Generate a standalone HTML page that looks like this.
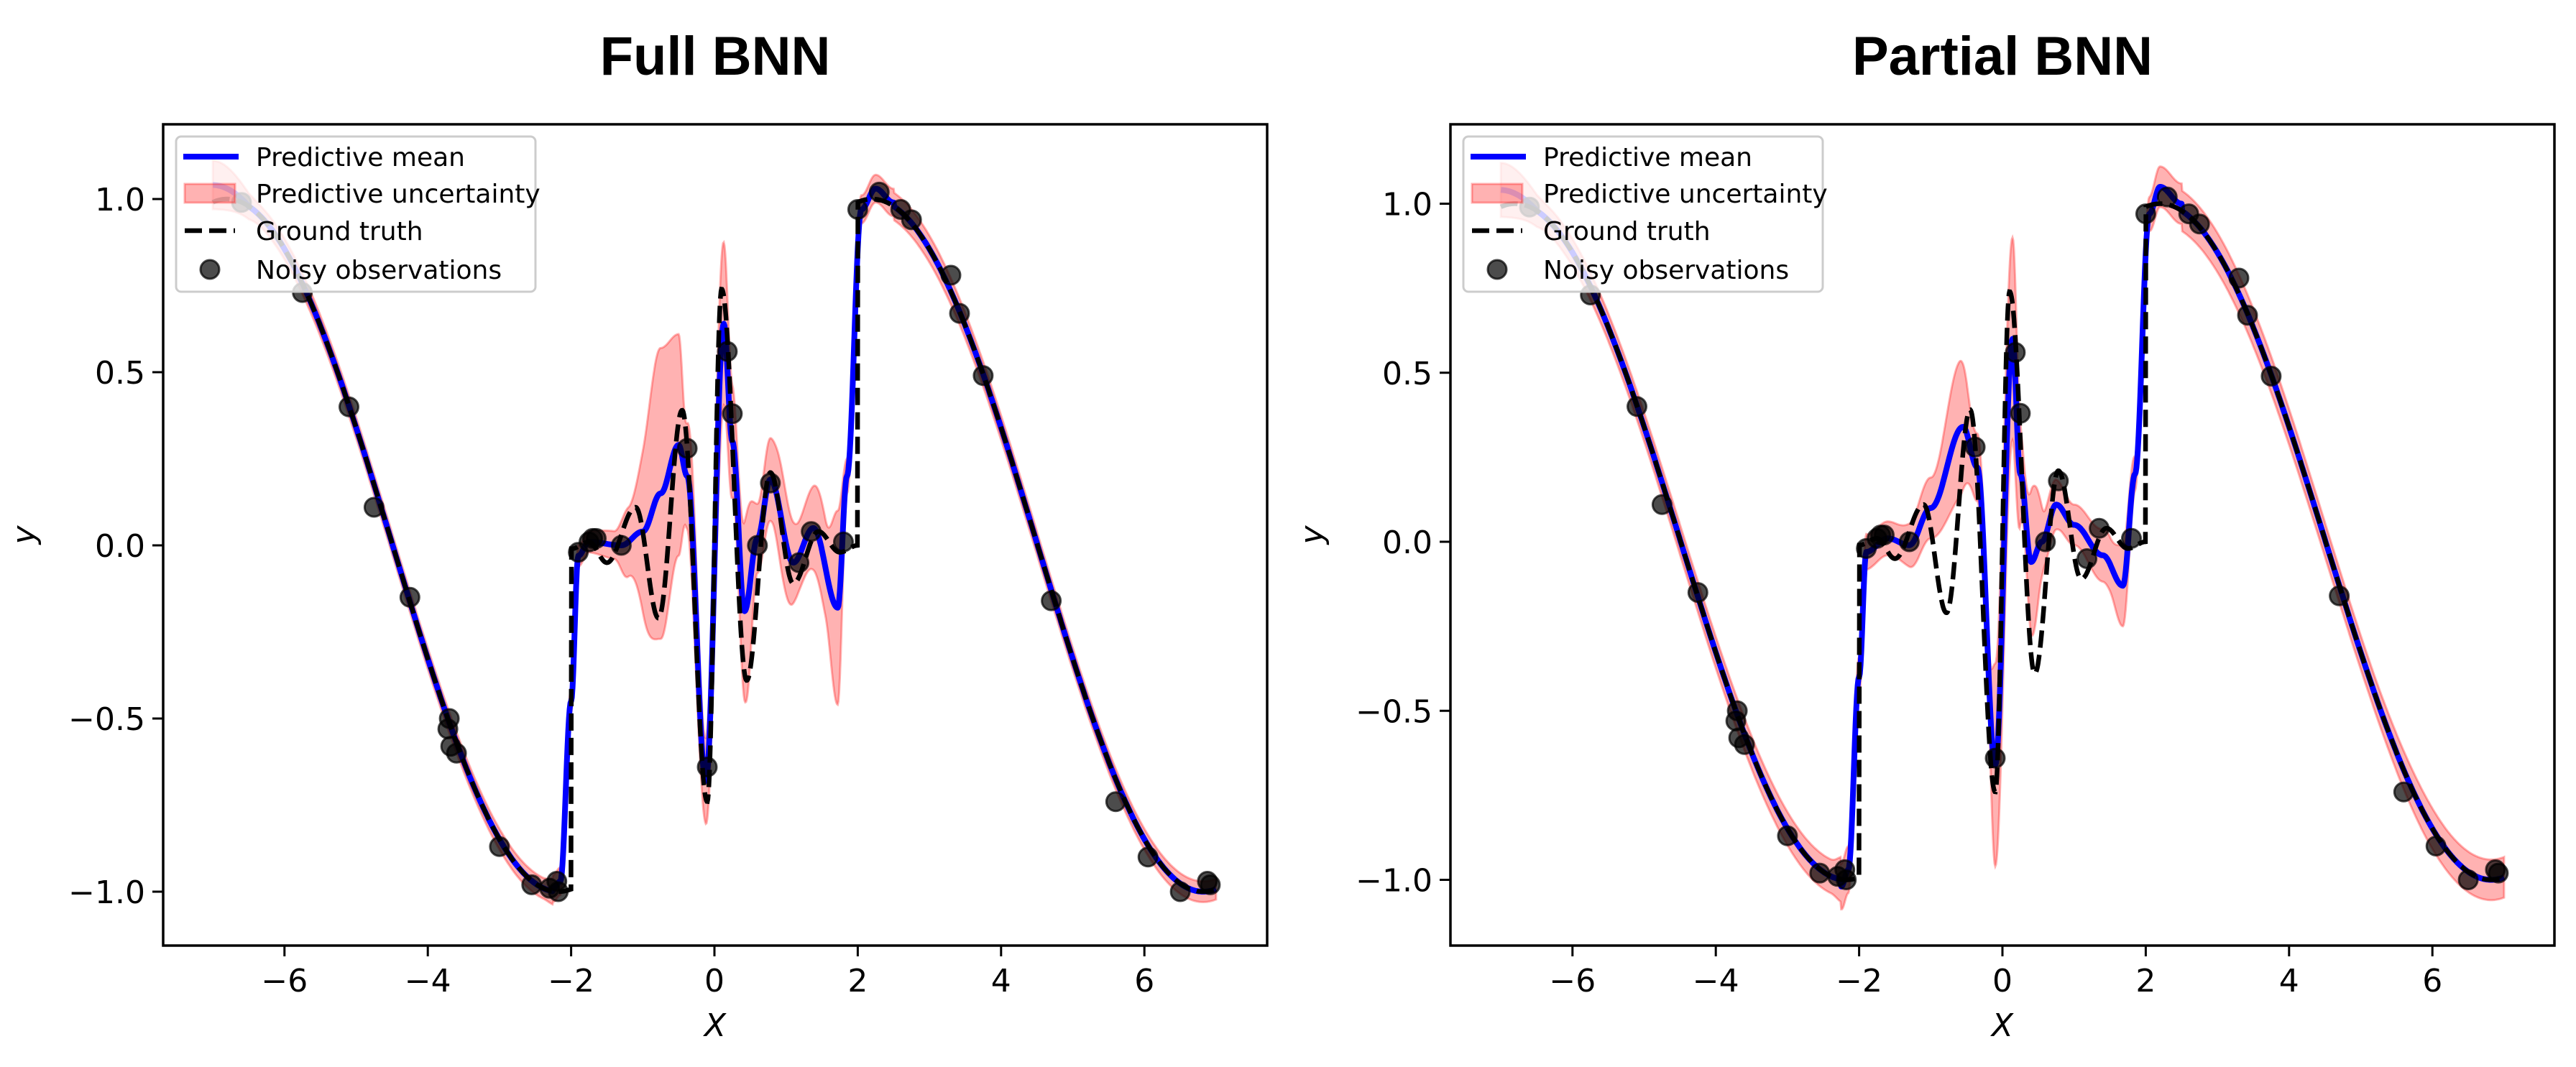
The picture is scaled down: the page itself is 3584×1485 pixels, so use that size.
<!DOCTYPE html>
<html><head><meta charset="utf-8">
<style>
html,body{margin:0;padding:0;background:#fff;}
svg{display:block;}
text{font-family:"DejaVu Sans","Liberation Sans",sans-serif;}
</style></head>
<body>
<svg id="s" width="3584" height="1485" viewBox="0 0 3584 1485" xmlns="http://www.w3.org/2000/svg">
<rect width="3584" height="1485" fill="#fff"/>
<text x="995" y="104" text-anchor="middle" font-family="Liberation Sans, sans-serif" font-weight="bold" font-size="76" style="font-family:'Liberation Sans',sans-serif">Full BNN</text>
<text x="2786" y="104" text-anchor="middle" font-family="Liberation Sans, sans-serif" font-weight="bold" font-size="76" style="font-family:'Liberation Sans',sans-serif">Partial BNN</text>
<g id="p1"></g><g id="p2"></g>
</svg>
<script>
function interp(pts){
  return function(x){
    if(x<=pts[0][0]) return pts[0][1];
    var n=pts.length;
    if(x>=pts[n-1][0]) return pts[n-1][1];
    var i=0; while(pts[i+1][0]<x) i++;
    var x0=pts[i][0],x1=pts[i+1][0],y0=pts[i][1],y1=pts[i+1][1];
    var t=(x-x0)/(x1-x0);
    var s=(1-Math.cos(Math.PI*t))/2;
    return y0+(y1-y0)*s;
  };
}
var gtMid=interp([[-2,-0.01],[-1.75,0.01],[-1.5,-0.05],[-1.1,0.11],[-0.78,-0.21],[-0.45,0.39],[-0.1,-0.74],[0.1,0.74],[0.45,-0.39],[0.78,0.21],[1.1,-0.11],[1.45,0.04],[1.75,-0.02],[2,0]]);
function GT(x){
  if(x<-2) return Math.cos(0.68*(x+6.8));
  if(x<2) return gtMid(x);
  return Math.cos(0.68*(x-2.2));
}
function meanFrom(mid){
  var f=interp(mid);
  var a=mid[0][0], b=mid[mid.length-1][0];
  return function(x){
    if(x<a){ var v=GT(x); if(x<-6.5) v+= (-6.5-x)*0.1; return v;}
    if(x>b) return GT(x);
    return f(x);
  };
}
var mean1=meanFrom([[-2.25,-0.99],[-2.15,-0.97],[-2.0,-0.45],[-1.9,-0.03],[-1.75,0.01],[-1.3,0.0],[-1.0,0.04],[-0.75,0.15],[-0.5,0.29],[-0.38,0.2],[-0.12,-0.68],[0.13,0.64],[0.25,0.3],[0.42,-0.19],[0.6,0.02],[0.78,0.19],[1.1,-0.05],[1.38,0.05],[1.72,-0.18],[1.85,0.2],[2.05,0.97],[2.25,1.03],[2.5,0.99]]);
var mean2=meanFrom([[-2.25,-1.02],[-2.15,-0.97],[-2.0,-0.4],[-1.9,-0.03],[-1.6,0.01],[-1.3,-0.01],[-1.0,0.1],[-0.55,0.34],[-0.35,0.22],[-0.1,-0.66],[0.14,0.6],[0.25,0.2],[0.4,-0.06],[0.55,0.0],[0.75,0.11],[1.0,0.05],[1.4,-0.04],[1.68,-0.13],[1.85,0.2],[2.05,0.97],[2.2,1.05],[2.5,1.0]]);
var w1=interp([[-7,0.07],[-6.3,0.03],[-2.4,0.03],[-2.2,0.04],[-1.8,0.03],[-1.4,0.04],[-1.2,0.1],[-0.75,0.42],[-0.5,0.32],[-0.4,0.15],[-0.3,0.18],[-0.15,0.12],[0.1,0.24],[0.3,0.15],[0.45,0.27],[0.6,0.1],[0.8,0.12],[0.95,0.15],[1.2,0.1],[1.55,0.14],[1.72,0.28],[1.85,0.05],[2.1,0.04],[6,0.03],[7,0.03]]);
var w2=interp([[-7,0.08],[-6.3,0.04],[-2.4,0.05],[-2.2,0.07],[-1.8,0.05],[-1.5,0.05],[-1.0,0.09],[-0.6,0.2],[-0.4,0.1],[-0.2,0.1],[-0.1,0.3],[0.15,0.3],[0.3,0.1],[0.42,0.22],[0.6,0.08],[1.0,0.06],[1.5,0.08],[1.68,0.12],[1.9,0.04],[2.2,0.06],[5,0.05],[6,0.06],[7,0.06]]);
var obs=[[-6.6,0.99],[-5.75,0.73],[-5.1,0.40],[-4.75,0.11],[-4.25,-0.15],[-3.7,-0.50],[-3.72,-0.53],[-3.68,-0.58],[-3.6,-0.60],[-3.0,-0.87],[-2.55,-0.98],[-2.3,-0.99],[-2.2,-0.97],[-2.18,-1.0],[-1.9,-0.02],[-1.75,0.01],[-1.7,0.02],[-1.65,0.02],[-1.3,0.0],[-0.38,0.28],[-0.1,-0.64],[0.18,0.56],[0.25,0.38],[0.6,0.0],[0.78,0.18],[1.18,-0.05],[1.35,0.04],[1.8,0.01],[2.0,0.97],[2.3,1.02],[2.6,0.97],[2.75,0.94],[3.3,0.78],[3.42,0.67],[3.75,0.49],[4.7,-0.16],[5.6,-0.74],[6.05,-0.90],[6.5,-1.0],[6.88,-0.97],[6.92,-0.98]];

function panel(id,L,R,T,B,x0,ux,y0,uy,mean,w,ylabX){
  var g=document.getElementById(id);
  var X=function(x){return x0+x*ux;}, Y=function(y){return y0-y*uy;};
  var h='<defs><clipPath id="c'+id+'"><rect x="'+L+'" y="'+T+'" width="'+(R-L)+'" height="'+(B-T)+'"/></clipPath></defs>';
  h+='<g clip-path="url(#c'+id+')">';
  var up=[],lo=[],m=[],gt=[];
  for(var i=0;i<=1400;i++){var x=-7+14*i/1400;var mv=mean(x),wv=w(x);
    up.push(X(x).toFixed(1)+','+Y(mv+wv).toFixed(1));lo.unshift(X(x).toFixed(1)+','+Y(mv-wv).toFixed(1));
    m.push(X(x).toFixed(1)+','+Y(mv).toFixed(1));}
  for(var i=0;i<=2000;i++){var x=-7+14*i/2000;gt.push(X(x).toFixed(1)+','+Y(GT(x)).toFixed(1));}
  h+='<polygon points="'+up.join(' ')+' '+lo.join(' ')+'" fill="rgba(255,0,0,0.3)" stroke="rgba(255,0,0,0.3)" stroke-width="3"/>';
  h+='<polyline points="'+m.join(' ')+'" fill="none" stroke="#0000ff" stroke-width="8" stroke-linejoin="round"/>';
  h+='<polyline points="'+gt.join(' ')+'" fill="none" stroke="#000" stroke-width="6.5" stroke-dasharray="24,10"/>';
  obs.forEach(function(p){h+='<circle cx="'+X(p[0]).toFixed(1)+'" cy="'+Y(p[1]).toFixed(1)+'" r="13" fill="rgba(0,0,0,0.7)" stroke="rgba(0,0,0,0.7)" stroke-width="3"/>';});
  h+='</g>';
  h+='<rect x="'+L+'" y="'+T+'" width="'+(R-L)+'" height="'+(B-T)+'" fill="none" stroke="#000" stroke-width="3.5"/>';
  [-6,-4,-2,0,2,4,6].forEach(function(t){var xx=X(t);
    h+='<line x1="'+xx+'" y1="'+B+'" x2="'+xx+'" y2="'+(B+15)+'" stroke="#000" stroke-width="3"/>';
    h+='<text x="'+xx+'" y="1380" text-anchor="middle" font-size="44">'+(t<0?'\u2212'+(-t):t)+'</text>';});
  [-1,-0.5,0,0.5,1].forEach(function(t){var yy=Y(t);
    h+='<line x1="'+(L-15)+'" y1="'+yy+'" x2="'+L+'" y2="'+yy+'" stroke="#000" stroke-width="3"/>';
    h+='<text x="'+(L-25)+'" y="'+(yy+16)+'" text-anchor="end" font-size="44">'+(t<0?'\u2212':'')+Math.abs(t).toFixed(1)+'</text>';});
  var cx=(L+R)/2;
  h+='<text x="'+cx+'" y="1442" text-anchor="middle" font-size="44" font-style="italic">X</text>';
  h+='<text transform="translate('+ylabX+','+((T+B)/2)+') rotate(-90)" text-anchor="middle" font-size="44" font-style="italic">y</text>';
  var lx=L+18, ly=T+17;
  h+='<rect x="'+lx+'" y="'+ly+'" width="500" height="216" rx="7" fill="rgba(255,255,255,0.8)" stroke="#ccc" stroke-width="3"/>';
  var tx=L+129, rows=[T+45,T+96,T+148,T+202];
  h+='<line x1="'+(L+28)+'" y1="'+rows[0]+'" x2="'+(L+105)+'" y2="'+rows[0]+'" stroke="#00f" stroke-width="8"/>';
  h+='<rect x="'+(L+30)+'" y="'+(rows[1]-13)+'" width="70" height="26" fill="rgba(255,0,0,0.3)" stroke="rgba(255,0,0,0.3)" stroke-width="3"/>';
  h+='<line x1="'+(L+30)+'" y1="'+rows[2]+'" x2="'+(L+100)+'" y2="'+rows[2]+'" stroke="#000" stroke-width="6.5" stroke-dasharray="24,10"/>';
  h+='<circle cx="'+(L+65)+'" cy="'+rows[3]+'" r="13" fill="rgba(0,0,0,0.7)" stroke="rgba(0,0,0,0.7)" stroke-width="3"/>';
  var labs=['Predictive mean','Predictive uncertainty','Ground truth','Noisy observations'];
  for(var k=0;k<4;k++) h+='<text x="'+tx+'" y="'+(rows[k]+13)+'" font-size="36">'+labs[k]+'</text>';
  g.innerHTML=h;
}
panel('p1',227,1763,173,1316,994,99.7,759,482,mean1,w1,48);
panel('p2',2018,3554,173,1316,2786,99.7,754,470.5,mean2,w2,1840);
</script>
</body></html>
